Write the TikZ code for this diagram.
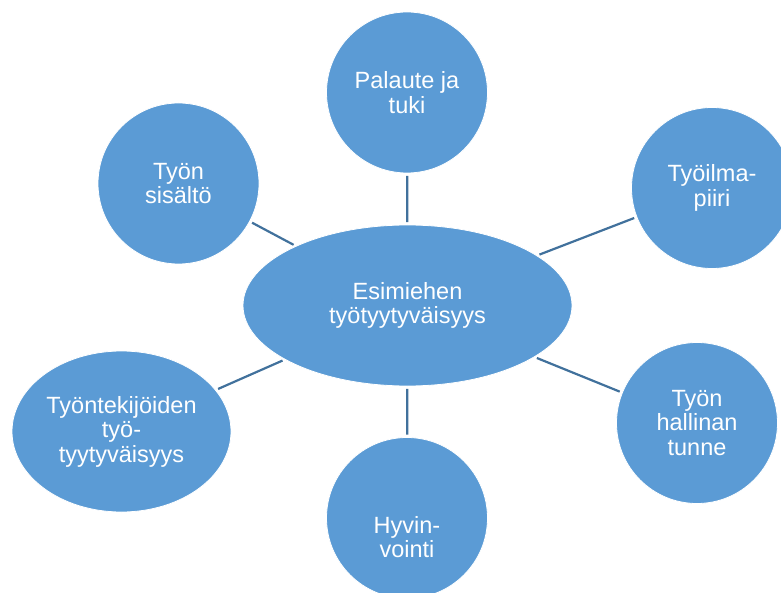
\documentclass[tikz,border=0pt]{standalone}
\usepackage{fontspec}
\setmainfont{Liberation Sans}
\usetikzlibrary{shapes.geometric}
\definecolor{bubble}{HTML}{5B9BD5}
\definecolor{link}{HTML}{41719C}
\begin{document}
\begin{tikzpicture}[x=1pt,y=-1pt,
  bub/.style={fill=bubble,draw=white,line width=0.8pt,inner sep=0pt,text=white,align=center,
    font=\fontsize{23.5}{24.5}\selectfont},
  circ/.style={bub,circle,minimum size=161pt},
  ell/.style={bub,ellipse},
  lab/.style={text=white,align=center,inner sep=0pt,font=\fontsize{23.5}{24.5}\selectfont},
  conn/.style={draw=link,line width=2.2pt,shorten <=2.5pt,shorten >=2.5pt}]
\useasboundingbox (0,0) rectangle (781,593);
\clip (0,0) rectangle (781,593);
\node[ell,minimum width=329pt,minimum height=161pt] (E) at (407.5,305.5) {Esimiehen\\työtyytyväisyys};
\node[circ] (T) at (407,92.5) {Palaute ja\\tuki};
\node[circ] (S) at (178.5,183.5) {Työn\\sisältö};
\node[circ] (I) at (712,188) {Työilma-\\piiri};
\node[circ] (H) at (697,423) {Työn\\hallinan\\tunne};
\node[ell,minimum width=219pt,minimum height=161pt] (W) at (121.5,431.5) {Työntekijöiden\\työ-\\tyytyväisyys};
\node[circ] (V) at (407,518) {};
\node[lab] (Vt) at (407,537) {Hyvin-\\vointi};
\draw[conn] (E) -- (T);
\draw[conn] (E) -- (S);
\draw[conn] (E) -- (I);
\draw[conn] (E) -- (H);
\draw[conn] (E) -- (W);
\draw[conn] (E) -- (V);
\end{tikzpicture}
\end{document}
